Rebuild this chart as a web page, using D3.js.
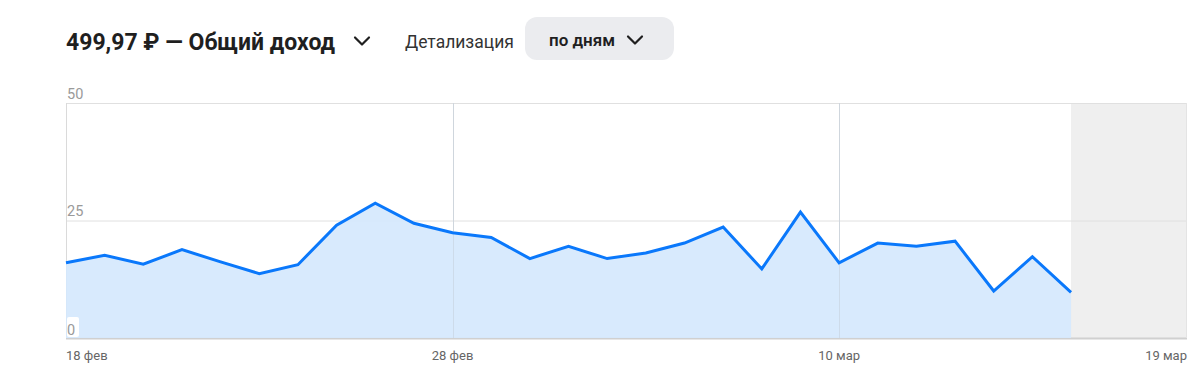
<!DOCTYPE html>
<html><head><meta charset="utf-8">
<script src="https://cdn.jsdelivr.net/npm/d3@7"></script>
<style>
html,body{margin:0;padding:0;background:#fff;}
svg{display:block;font-family:Roboto,"Noto Sans",sans-serif;}
</style></head>
<body>
<svg id="chart" width="1200" height="390"></svg>
<script>
const startDate = "2025-02-18";
const endDate = "2025-03-19";
const values = [16.0,17.6,15.7,18.8,16.2,13.7,15.6,24.0,28.7,24.4,22.4,21.4,16.9,19.5,16.9,18.1,20.2,23.6,14.7,26.8,16.0,20.2,19.5,20.6,10.0,17.3,9.7];
const yTicks = [0,25,50];
const xTickDates = ["2025-02-18","2025-02-28","2025-03-10","2025-03-19"];
const xTickLabels = ["18 фев","28 фев","10 мар","19 мар"];
const title = "499,97 ₽ — Общий доход";
const detailLabel = "Детализация";
const buttonLabel = "по дням";

const parse = d3.utcParse("%Y-%m-%d");
const t0 = parse(startDate), t1 = parse(endDate);
const data = values.map((v,i)=>({date:d3.utcDay.offset(t0,i), v}));

const svg = d3.select("#chart");
const L=66, R=1187, T=103, B=338;
const x = d3.scaleUtc().domain([t0,t1]).range([L,R]);
const y = d3.scaleLinear().domain([0,50]).range([B,T]);

// header
svg.append("text").attr("x",66).attr("y",50).attr("font-size",23).attr("font-weight",700)
  .attr("fill","#1f1f1f").text(title);
const chev = (cx,cy,c)=>svg.append("path").attr("d",`M${cx-7},${cy-3.5}L${cx},${cy+3.5}L${cx+7},${cy-3.5}`)
  .attr("fill","none").attr("stroke",c).attr("stroke-width",2.2).attr("stroke-linecap","round").attr("stroke-linejoin","round");
chev(362,41,"#1f1f1f");
svg.append("text").attr("x",405).attr("y",48).attr("font-size",17.5).attr("fill","#333").text(detailLabel);
svg.append("rect").attr("x",525).attr("y",17).attr("width",149).attr("height",43).attr("rx",12).attr("fill","#ebecef");
svg.append("text").attr("x",549).attr("y",46).attr("font-size",17).attr("font-weight",600).attr("fill","#1f1f1f").text(buttonLabel);
chev(635,40,"#1f1f1f");

// grey future zone
const last = data[data.length-1].date;
svg.append("rect").attr("x",x(last)).attr("y",T).attr("width",x(t1)-x(last)).attr("height",B-T).attr("fill","#efefef");

// grid
svg.append("g").selectAll("line").data(yTicks).join("line")
  .attr("x1",L).attr("x2",R).attr("y1",d=>y(d)+0.5).attr("y2",d=>y(d)+0.5)
  .attr("stroke",d=>d===0?"#d0d0d0":"#e0e0e0").attr("stroke-width",d=>d===0?2:1);
svg.append("g").selectAll("line").data(xTickDates.slice(1,3)).join("line")
  .attr("x1",d=>Math.round(x(parse(d)))+0.5).attr("x2",d=>Math.round(x(parse(d)))+0.5)
  .attr("y1",T).attr("y2",B).attr("stroke","#dadada");
svg.append("line").attr("x1",L+0.5).attr("x2",L+0.5).attr("y1",T).attr("y2",B).attr("stroke","#dadada");
svg.append("line").attr("x1",R-0.5).attr("x2",R-0.5).attr("y1",T).attr("y2",B).attr("stroke","#e4e4e4");

// area + line
const area = d3.area().x(d=>x(d.date)).y0(y(0)).y1(d=>y(d.v));
const line = d3.line().x(d=>x(d.date)).y(d=>y(d.v));
svg.append("path").datum(data).attr("d",area).attr("fill","#d4e8fd").attr("fill-opacity",0.9);
svg.append("g").selectAll("line").data(xTickDates.slice(1,3)).join("line")
  .attr("x1",d=>Math.round(x(parse(d)))+0.5).attr("x2",d=>Math.round(x(parse(d)))+0.5)
  .attr("y1",T).attr("y2",B).attr("stroke","#c8d3e0").attr("stroke-opacity",0.6);
svg.append("path").datum(data).attr("d",line).attr("fill","none").attr("stroke","#0a78fb")
  .attr("stroke-width",3).attr("stroke-linejoin","miter");

// y labels
const yl = svg.append("g");
yTicks.forEach(t=>{
  if(t===0){
    yl.append("rect").attr("x",L+1).attr("y",y(t)-21).attr("width",12).attr("height",20).attr("rx",2).attr("fill","#fff");
  }
  yl.append("text").attr("x",L+1).attr("y",y(t)-(t===0?3:4.5)).attr("font-size",14.5).attr("fill","#9a9a9a").text(t);
});

// x labels
const xl = svg.append("g");
xTickDates.forEach((d,i)=>{
  const anchor = i===0?"start":(i===xTickDates.length-1?"end":"middle");
  xl.append("text").attr("x",x(parse(d))).attr("y",359.5).attr("font-size",13).attr("fill","#666")
    .attr("text-anchor",anchor).text(xTickLabels[i]);
});
</script>
</body></html>
